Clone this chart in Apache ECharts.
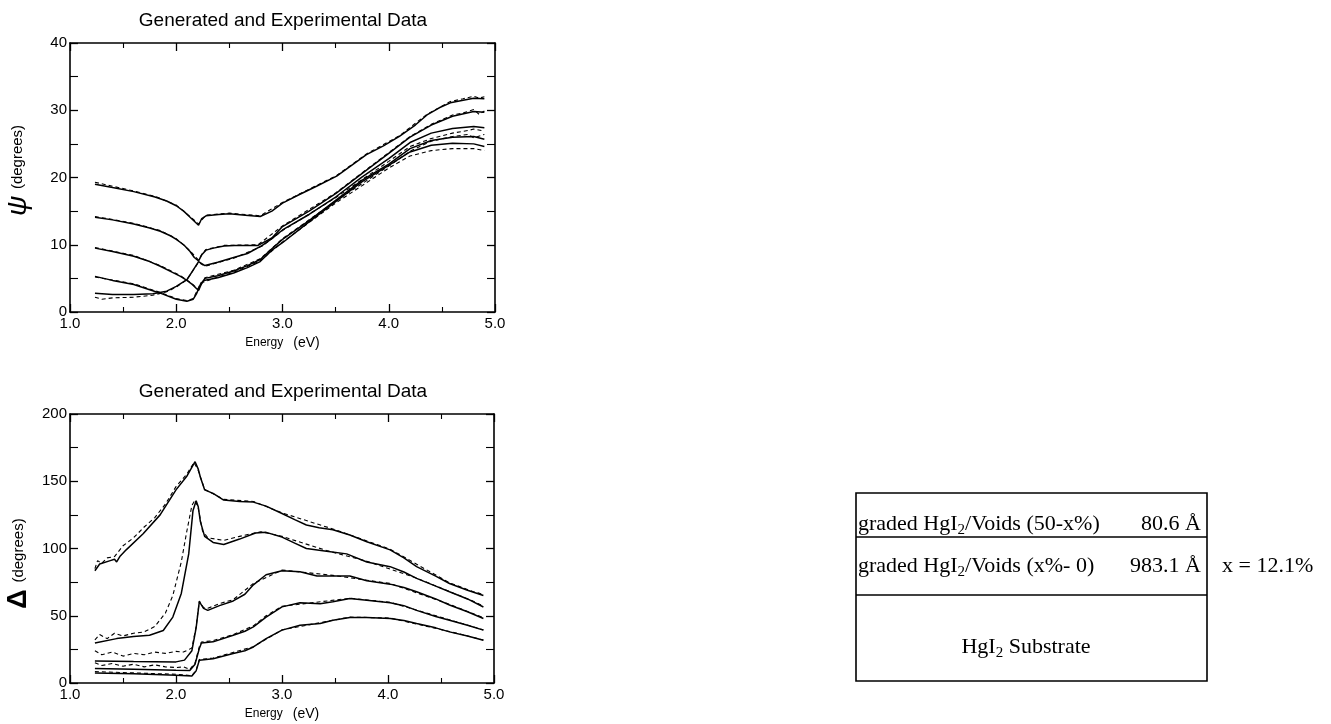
<!DOCTYPE html>
<html>
<head>
<meta charset="utf-8">
<title>Generated and Experimental Data</title>
<script src="https://cdn.jsdelivr.net/npm/echarts@6/dist/echarts.min.js"></script>
<style>
  html, body { margin: 0; padding: 0; background: #fff; }
  #chart { width: 1331px; height: 724px; }
</style>
</head>
<body>
<div id="chart"></div>
<script>
// energy axis ticks (eV)
const energyTicks = [1.0, 2.0, 3.0, 4.0, 5.0];
const psiTicks = [0, 10, 20, 30, 40];
const deltaTicks = [0, 50, 100, 150, 200];

// psi, generated (solid) -- [energy, degrees]
const psiGenA = [[1.235,19.0],[1.4,18.5],[1.6,17.9],[1.8,17.1],[1.91,16.5],[2.0,15.8],[2.07,15.0],[2.13,14.1],[2.17,13.5],[2.21,12.9],[2.24,13.9],[2.28,14.3],[2.4,14.5],[2.5,14.6],[2.65,14.4],[2.79,14.2],[2.9,15.0],[3.0,16.2],[3.15,17.4],[3.32,18.7],[3.51,20.2],[3.65,21.8],[3.79,23.4],[3.95,24.7],[4.1,26.1],[4.25,27.8],[4.36,29.3],[4.48,30.4],[4.58,31.1],[4.7,31.5],[4.8,31.8],[4.9,31.7]];
const psiGenB = [[1.235,14.1],[1.4,13.7],[1.6,13.1],[1.75,12.5],[1.85,12.0],[1.95,11.3],[2.0,10.8],[2.07,10.0],[2.13,9.0],[2.17,8.1],[2.21,7.6],[2.24,8.5],[2.28,9.2],[2.35,9.5],[2.45,9.8],[2.55,9.9],[2.77,9.9],[2.9,11.0],[3.0,12.7],[3.25,15.0],[3.5,17.6],[3.75,20.6],[4.0,23.6],[4.2,26.0],[4.4,27.8],[4.6,29.1],[4.8,29.8],[4.9,29.7]];
const psiGenC = [[1.235,9.5],[1.4,9.0],[1.6,8.3],[1.75,7.5],[1.85,6.8],[1.95,6.0],[2.04,5.3],[2.1,4.7],[2.15,4.1],[2.21,3.2],[2.24,4.3],[2.27,5.0],[2.39,5.4],[2.54,6.1],[2.67,6.9],[2.79,7.8],[2.9,9.4],[3.0,10.8],[3.25,13.6],[3.5,16.6],[3.75,19.6],[4.0,22.0],[4.2,24.3],[4.4,25.5],[4.6,26.0],[4.8,26.1],[4.9,25.7]];
const psiGenD = [[1.235,5.3],[1.4,4.7],[1.6,4.1],[1.75,3.3],[1.85,2.8],[2.0,1.9],[2.1,1.6],[2.16,1.9],[2.19,2.7],[2.23,4.2],[2.26,4.7],[2.39,5.1],[2.54,5.8],[2.67,6.6],[2.79,7.5],[2.9,9.2],[3.0,10.3],[3.25,13.4],[3.5,16.4],[3.75,19.4],[4.0,21.8],[4.2,23.8],[4.4,24.8],[4.6,25.1],[4.8,25.0],[4.9,24.6]];
const psiGenE = [[1.235,2.8],[1.4,2.6],[1.6,2.6],[1.78,2.7],[1.91,3.1],[2.0,3.8],[2.1,4.8],[2.15,6.0],[2.21,7.5],[2.24,7.2],[2.27,6.9],[2.39,7.4],[2.54,8.1],[2.67,8.7],[2.81,9.9],[2.9,10.9],[3.0,12.2],[3.25,14.5],[3.5,17.1],[3.75,20.1],[4.0,22.8],[4.2,25.2],[4.4,26.6],[4.6,27.3],[4.8,27.6],[4.9,27.4]];

// psi, experimental (dashed)
const psiExpA = [[1.235,19.3],[1.4,18.7],[1.6,18.0],[1.8,17.2],[2.0,15.9],[2.13,14.2],[2.21,13.1],[2.28,14.4],[2.5,14.7],[2.79,14.3],[3.0,16.3],[3.32,18.8],[3.51,20.3],[3.79,23.5],[4.1,26.2],[4.36,29.4],[4.58,31.3],[4.7,31.7],[4.8,32.1],[4.85,31.8],[4.9,32.0]];
const psiExpB = [[1.235,14.2],[1.6,13.2],[1.85,12.1],[2.0,10.9],[2.13,9.1],[2.21,7.7],[2.24,8.6],[2.28,9.3],[2.45,9.9],[2.77,10.0],[3.0,12.8],[3.5,17.7],[4.0,23.7],[4.2,26.1],[4.4,27.9],[4.6,29.3],[4.7,29.6],[4.8,30.1],[4.85,29.4],[4.9,29.9]];
const psiExpC = [[1.235,9.6],[1.6,8.4],[1.85,6.9],[2.04,5.4],[2.15,4.2],[2.21,3.3],[2.27,5.1],[2.54,6.2],[2.79,7.9],[3.0,10.9],[3.5,16.5],[4.0,21.7],[4.2,23.9],[4.4,25.4],[4.6,26.1],[4.75,26.4],[4.8,25.9],[4.9,26.4]];
const psiExpD = [[1.235,5.2],[1.6,4.2],[1.85,2.9],[2.0,2.0],[2.1,1.7],[2.16,2.0],[2.23,4.3],[2.39,5.2],[2.54,5.9],[2.79,7.6],[3.0,10.4],[3.5,16.2],[4.0,21.4],[4.2,23.2],[4.4,24.0],[4.6,24.3],[4.8,24.3],[4.9,24.0]];
const psiExpE = [[1.235,2.2],[1.3,1.9],[1.4,2.1],[1.6,2.2],[1.78,2.5],[1.91,3.0],[2.0,3.7],[2.1,4.8],[2.15,6.0],[2.21,7.4],[2.27,6.8],[2.54,8.0],[2.81,9.8],[3.0,12.1],[3.5,17.0],[4.0,22.4],[4.2,24.6],[4.4,25.8],[4.6,26.6],[4.75,27.0],[4.8,27.2],[4.9,26.9]];

// delta, generated (solid)
const dGen1 = [[1.235,83.5],[1.28,88.5],[1.38,91],[1.42,92],[1.44,90],[1.47,94],[1.53,99],[1.69,111],[1.85,125],[2.0,143.6],[2.1,153.5],[2.18,164.5],[2.21,159],[2.23,153],[2.27,143.6],[2.35,141],[2.45,136],[2.6,135],[2.73,134.5],[2.85,131.5],[3.0,126],[3.12,121.5],[3.23,117.5],[3.35,115.5],[3.48,114],[3.64,110],[3.8,105],[4.02,99],[4.15,93],[4.27,86.5],[4.45,79.5],[4.58,74],[4.75,69],[4.9,65]];
const dGen2 = [[1.235,29.8],[1.44,33],[1.6,34.5],[1.75,35.5],[1.88,39],[1.97,49],[2.05,66.6],[2.12,96],[2.16,128],[2.19,135.5],[2.21,131],[2.23,120],[2.27,109],[2.35,104.5],[2.45,103],[2.6,107],[2.75,111.5],[2.85,112],[3.0,108.5],[3.12,104],[3.23,100],[3.42,98],[3.61,96],[3.8,90],[4.02,86.5],[4.15,82.5],[4.27,77.8],[4.45,72],[4.58,67.8],[4.75,62.5],[4.9,56.5]];
const dGen3 = [[1.235,16.4],[1.6,16],[2.0,15.7],[2.08,17],[2.15,24],[2.19,41],[2.22,60.5],[2.26,55.5],[2.3,54],[2.41,57.5],[2.54,61],[2.65,66],[2.73,73],[2.85,80.5],[3.0,83.5],[3.17,82.7],[3.33,79.5],[3.48,79.5],[3.64,79.5],[3.8,76],[4.02,73.5],[4.15,71],[4.27,67.8],[4.45,62.5],[4.58,58],[4.75,53],[4.9,48]];
const dGen4 = [[1.235,10.7],[1.6,10.2],[2.0,9.5],[2.13,9.3],[2.18,14],[2.22,25.6],[2.24,29.8],[2.35,30.6],[2.54,35.5],[2.65,38.5],[2.73,41.7],[2.85,49],[3.0,56.6],[3.17,59.6],[3.36,59],[3.48,60.4],[3.64,62.9],[3.8,61.6],[4.02,59.6],[4.15,57.5],[4.27,54],[4.45,49.5],[4.58,46.7],[4.75,43],[4.9,39.3]];
const dGen5 = [[1.235,7.5],[1.6,6.8],[2.0,5.8],[2.15,5.2],[2.19,9],[2.22,16.9],[2.35,18],[2.54,21.9],[2.65,24],[2.73,26.8],[2.85,33],[3.0,39.3],[3.17,43],[3.36,44.2],[3.48,46.7],[3.64,48.7],[3.8,48.7],[4.02,48],[4.15,46.5],[4.27,44.2],[4.45,41],[4.58,38],[4.75,35],[4.9,31.8]];

// delta, experimental (dashed)
const dExp1 = [[1.235,85],[1.26,91],[1.3,89],[1.35,93],[1.42,94],[1.5,102],[1.6,108],[1.7,116],[1.8,123],[1.9,133],[2.0,146],[2.1,155],[2.17,164],[2.21,158],[2.27,144],[2.45,136.5],[2.73,135],[3.0,126.5],[3.48,114.5],[4.02,99.5],[4.58,74.5],[4.8,68],[4.85,67],[4.9,65.5]];
const dExp2 = [[1.235,32],[1.28,36],[1.35,33],[1.42,37],[1.5,35],[1.6,37],[1.7,38],[1.8,42],[1.9,52],[1.97,65],[2.05,90],[2.1,112],[2.15,132],[2.18,136],[2.21,130],[2.25,113],[2.3,108],[2.45,106],[2.6,109],[2.8,112.5],[3.0,109],[3.42,98.5],[3.8,90.5],[4.27,78],[4.58,68],[4.8,61],[4.88,58],[4.9,57]];
const dExp3 = [[1.235,24],[1.3,21],[1.4,23],[1.5,20],[1.6,22],[1.7,21],[1.8,23],[1.9,22],[2.0,23.5],[2.07,23],[2.15,26],[2.19,42],[2.22,61],[2.26,56],[2.3,55.5],[2.41,59],[2.54,62],[2.73,74],[3.0,84],[3.48,80],[4.02,74],[4.58,58.5],[4.9,48.5]];
const dExp4 = [[1.235,15],[1.3,13],[1.4,14.5],[1.5,12.5],[1.6,14],[1.7,12],[1.8,13.5],[1.9,12],[2.0,11.5],[2.07,12],[2.13,10],[2.18,15],[2.22,27],[2.24,30.5],[2.35,31.5],[2.54,36],[2.73,42.5],[2.85,50],[3.0,57],[3.64,63],[4.02,60],[4.58,47],[4.9,39.5]];
const dExp5 = [[1.235,8.5],[1.6,7.5],[2.0,6.5],[2.15,5.5],[2.19,9.5],[2.22,17.5],[2.35,18.5],[2.73,27],[3.0,39.5],[3.64,49],[4.02,48.3],[4.58,38.3],[4.9,32]];

const SANS = '"Liberation Sans", Arial, sans-serif';
const SERIF = '"Liberation Serif", "Times New Roman", serif';

var myChart = echarts.init(document.getElementById('chart'), null, { renderer: 'canvas' });

function xAxes(grid) {
    const base = {
        type: 'value', gridIndex: grid, min: energyTicks[0], max: energyTicks[energyTicks.length - 1], interval: 1,
        axisLine: { show: true, onZero: false, lineStyle: { color: '#000', width: 1.6 } },
        axisTick: { show: true, inside: true, length: 8, lineStyle: { color: '#000', width: 1.3 } },
        minorTick: { show: true, splitNumber: 2, length: 5, lineStyle: { color: '#000', width: 1.1 } },
        splitLine: { show: false }
    };
    return [
        Object.assign({}, base, {
            position: 'bottom',
            axisLabel: { color: '#000', fontSize: 15, fontFamily: SANS, margin: 4, formatter: v => v.toFixed(1) },
            name: '{a|Energy}   {b|(eV)}', nameLocation: 'middle', nameGap: 24,
            nameTextStyle: { rich: { a: { fontSize: 12, fontFamily: SANS, color: '#000' }, b: { fontSize: 14, fontFamily: SANS, color: '#000' } } }
        }),
        Object.assign({}, base, { position: 'top', axisLabel: { show: false } })
    ];
}

// padStart / padEnd shift the rotated name along the axis (start = bottom end)
function yAxes(grid, ticks, symbol, symSize, padStart, padEnd) {
    const base = {
        type: 'value', gridIndex: grid, min: ticks[0], max: ticks[ticks.length - 1], interval: ticks[1] - ticks[0],
        axisLine: { show: true, onZero: false, lineStyle: { color: '#000', width: 1.6 } },
        axisTick: { show: true, inside: true, length: 8, lineStyle: { color: '#000', width: 1.3 } },
        minorTick: { show: true, splitNumber: 2, length: 8, lineStyle: { color: '#000', width: 1.1 } },
        splitLine: { show: false }
    };
    return [
        Object.assign({}, base, {
            position: 'left',
            axisLabel: { color: '#000', fontSize: 15, fontFamily: SANS, margin: 3 },
            name: '{s|' + symbol + '}  {b|(degrees)}', nameLocation: 'middle', nameRotate: 90, nameGap: 38,
            nameTextStyle: { rich: {
                s: { fontSize: symSize, fontFamily: SANS, color: '#000', padding: [0, 0, 0, padStart],
                     fontStyle: symbol === 'ψ' ? 'italic' : 'normal', fontWeight: symbol === 'Δ' ? 'bold' : 'normal' },
                b: { fontSize: 15, fontFamily: SANS, color: '#000', padding: [0, padEnd, 0, 0] }
            } }
        }),
        Object.assign({}, base, { position: 'right', axisLabel: { show: false } })
    ];
}

function line(data, xi, yi, dashed) {
    return {
        type: 'line', data: data, xAxisIndex: xi, yAxisIndex: yi,
        symbol: 'none', smooth: false, silent: true, z: dashed ? 2 : 3,
        lineStyle: dashed ? { color: '#000', width: 1.1, type: [4, 3] } : { color: '#000', width: 1.5 }
    };
}

const psiGen = [psiGenA, psiGenB, psiGenC, psiGenD, psiGenE];
const psiExp = [psiExpA, psiExpB, psiExpC, psiExpD, psiExpE];
const dGen = [dGen1, dGen2, dGen3, dGen4, dGen5];
const dExp = [dExp1, dExp2, dExp3, dExp4, dExp5];

const series = [];
psiExp.forEach(d => series.push(line(d, 0, 0, true)));
psiGen.forEach(d => series.push(line(d, 0, 0, false)));
dExp.forEach(d => series.push(line(d, 2, 2, true)));
dGen.forEach(d => series.push(line(d, 2, 2, false)));

const layerRich = {
    n: { fontSize: 22, fontFamily: SERIF, color: '#000', lineHeight: 26 },
    s: { fontSize: 15, fontFamily: SERIF, color: '#000', lineHeight: 15, padding: [12, 0, 0, 0] }
};

function txt(x, y, text, align, font) {
    return {
        type: 'text', x: x, y: y, silent: true,
        style: { text: text, font: font, fill: '#000', align: align, verticalAlign: 'middle', rich: layerRich }
    };
}

let option = {
    animation: false,
    backgroundColor: '#fff',
    grid: [
        { left: 70, top: 43, width: 425, height: 269 },
        { left: 70, top: 414, width: 424, height: 269 }
    ],
    xAxis: xAxes(0).concat(xAxes(1)),
    yAxis: yAxes(0, psiTicks, 'ψ', 28, 14, 0).concat(yAxes(1, deltaTicks, 'Δ', 27, 0, 30)),
    series: series,
    graphic: [
        txt(283, 21, 'Generated and Experimental Data', 'center', '19px ' + SANS),
        txt(283, 392, 'Generated and Experimental Data', 'center', '19px ' + SANS),
        { type: 'rect', shape: { x: 856, y: 493, width: 351, height: 188 }, style: { fill: 'none', stroke: '#000', lineWidth: 1.6 } },
        { type: 'line', shape: { x1: 856, y1: 537, x2: 1207, y2: 537 }, style: { stroke: '#000', lineWidth: 1.5 } },
        { type: 'line', shape: { x1: 856, y1: 595, x2: 1207, y2: 595 }, style: { stroke: '#000', lineWidth: 1.5 } },
        txt(858, 524, '{n|graded HgI}{s|2}{n|/Voids (50-x%)}', 'left', '22px ' + SERIF),
        txt(1201, 524, '{n|80.6 Å}', 'right', '22px ' + SERIF),
        txt(858, 566, '{n|graded HgI}{s|2}{n|/Voids (x%- 0)}', 'left', '22px ' + SERIF),
        txt(1201, 566, '{n|983.1 Å}', 'right', '22px ' + SERIF),
        txt(1222, 566, '{n|x = 12.1%}', 'left', '21px ' + SERIF),
        txt(1026, 647, '{n|HgI}{s|2}{n| Substrate}', 'center', '22px ' + SERIF)
    ]
};
myChart.setOption(option);
</script>
</body>
</html>
